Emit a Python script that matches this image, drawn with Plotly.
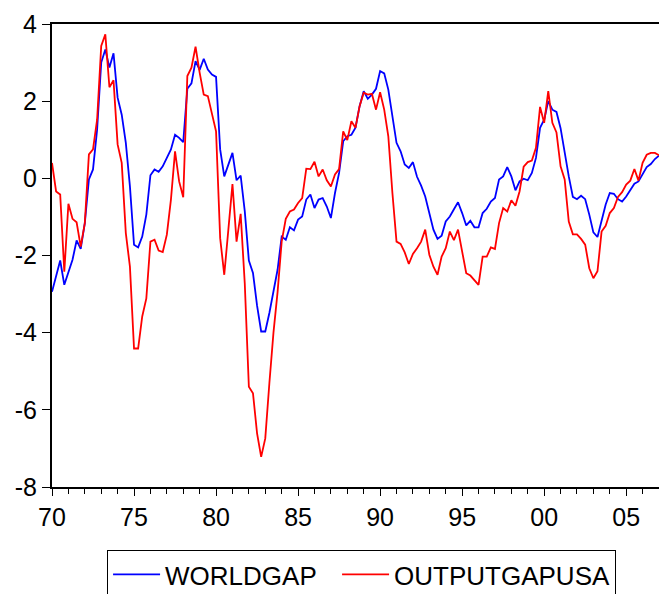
import plotly.graph_objects as go

start_year = 1970
worldgap = [-2.94, -2.50, -2.13, -2.76, -2.46, -2.11, -1.61, -1.83, -1.16, -0.03,
            0.23, 1.26, 3.00, 3.34, 2.87, 3.24, 2.09, 1.65, 0.92, -0.21,
            -1.72, -1.79, -1.51, -0.94, 0.08, 0.23, 0.17, 0.31, 0.53, 0.75,
            1.13, 1.05, 0.94, 2.32, 2.46, 3.04, 2.81, 3.10, 2.82, 2.69,
            2.63, 0.75, 0.05, 0.36, 0.66, -0.05, 0.07, -0.85, -2.13, -2.45,
            -3.30, -3.97, -3.97, -3.49, -2.91, -2.37, -1.51, -1.59, -1.27, -1.35,
            -1.07, -0.99, -0.55, -0.42, -0.77, -0.55, -0.51, -0.73, -1.03, -0.38,
            0.14, 0.96, 1.09, 1.13, 1.31, 1.87, 2.26, 2.06, 2.17, 2.32,
            2.78, 2.72, 2.30, 1.65, 0.92, 0.70, 0.36, 0.27, 0.42, 0.04,
            -0.19, -0.47, -0.90, -1.33, -1.57, -1.49, -1.12, -0.99, -0.80, -0.62,
            -0.90, -1.22, -1.10, -1.27, -1.27, -0.90, -0.79, -0.60, -0.51, -0.03,
            0.05, 0.29, 0.05, -0.31, -0.08, -0.01, -0.05, 0.14, 0.53, 1.31,
            1.52, 2.00, 1.78, 1.72, 1.30, 0.66, 0.05, -0.48, -0.54, -0.45,
            -0.54, -0.94, -1.40, -1.52, -1.07, -0.68, -0.38, -0.40, -0.54, -0.60,
            -0.47, -0.31, -0.14, -0.08, 0.10, 0.29, 0.37, 0.50, 0.59]
outputgapusa = [0.40, -0.34, -0.42, -2.42, -0.66, -1.05, -1.14, -1.77, -1.16, 0.62,
                0.75, 1.52, 3.43, 3.73, 2.36, 2.54, 0.88, 0.40, -1.42, -2.29,
                -4.41, -4.41, -3.58, -3.11, -1.64, -1.59, -1.87, -1.91, -1.46, -0.55,
                0.70, -0.08, -0.49, 2.65, 2.87, 3.41, 2.74, 2.17, 2.13, 1.65,
                1.22, -1.55, -2.50, -1.33, -0.15, -1.64, -0.92, -2.72, -5.40, -5.57,
                -6.61, -7.22, -6.74, -5.31, -4.00, -2.95, -1.64, -1.05, -0.86, -0.81,
                -0.64, -0.51, 0.25, 0.24, 0.43, 0.05, 0.23, -0.05, -0.21, 0.10,
                0.24, 1.22, 0.99, 1.48, 1.31, 1.87, 2.22, 2.17, 2.19, 1.78,
                2.23, 1.78, 1.09, -0.38, -1.64, -1.70, -1.92, -2.22, -1.96, -1.81,
                -1.64, -1.33, -1.98, -2.29, -2.50, -2.03, -1.81, -1.38, -1.60, -1.33,
                -1.85, -2.46, -2.52, -2.63, -2.76, -2.03, -2.03, -1.79, -1.83, -1.16,
                -0.77, -0.86, -0.57, -0.71, -0.34, 0.30, 0.42, 0.46, 0.79, 1.85,
                1.44, 2.26, 1.44, 1.19, 0.31, -0.03, -1.12, -1.45, -1.45, -1.57,
                -1.72, -2.33, -2.59, -2.41, -1.38, -1.23, -0.90, -0.77, -0.48, -0.36,
                -0.16, -0.06, 0.24, -0.06, 0.40, 0.61, 0.66, 0.66, 0.60]
x_tickvals = [1970, 1975, 1980, 1985, 1990, 1995, 2000, 2005]
x_ticktext = ["70", "75", "80", "85", "90", "95", "00", "05"]
y_tickvals = [-8, -6, -4, -2, 0, 2, 4]
y_ticktext = ["-8", "-6", "-4", "-2", "0", "2", "4"]

dates = [start_year + i / 4 for i in range(len(worldgap))]

fig = go.Figure()
fig.add_trace(go.Scatter(x=dates, y=worldgap, mode="lines", name="WORLDGAP",
                         legendwidth=167,
                         line=dict(color="#0000FF", width=1.8)))
fig.add_trace(go.Scatter(x=dates, y=outputgapusa, mode="lines", name="OUTPUTGAPUSA",
                         line=dict(color="#FF0000", width=1.8)))

font = "Liberation Sans, Arial, sans-serif"
fig.update_layout(
    width=659, height=594,
    margin=dict(l=52, r=0, t=24, b=107, autoexpand=False),
    paper_bgcolor="white", plot_bgcolor="white",
    font=dict(family=font, size=25, color="black"),
    showlegend=True,
    legend=dict(orientation="h", x=0.51, xanchor="center", y=-0.136, yanchor="top",
                bordercolor="black", borderwidth=1, font=dict(size=26),
                itemwidth=47, tracegroupgap=0),
    xaxis=dict(range=[1970, 2007], tickvals=x_tickvals, ticktext=x_ticktext,
               ticks="outside", ticklen=7, tickwidth=1, tickcolor="black",
               showline=True, linecolor="black", linewidth=2, mirror=True,
               showgrid=False, zeroline=False,
               minor=dict(dtick=1, tick0=1970, ticks="outside", ticklen=5,
                          tickcolor="black", showgrid=False),
               tickfont=dict(size=25)),
    yaxis=dict(range=[-8, 4], tickvals=y_tickvals, ticktext=y_ticktext,
               ticks="outside", ticklen=8, tickwidth=1, tickcolor="black",
               showline=True, linecolor="black", linewidth=2, mirror=True,
               showgrid=False, zeroline=False, tickfont=dict(size=25)),
)

fig.write_html("out.html")
